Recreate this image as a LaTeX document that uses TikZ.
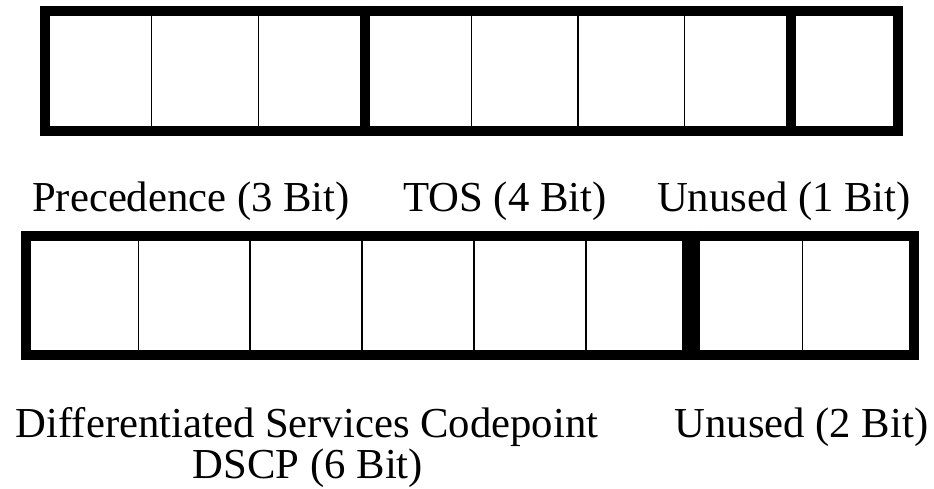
\documentclass[tikz,border=0pt]{standalone}
\usepackage{fontspec}
\setmainfont{Liberation Serif}
\begin{document}
\begin{tikzpicture}[x=1pt,y=-1pt,
  frame/.style={line width=10pt, line join=miter},
  thin/.style={line width=1.3pt},
  thick/.style={line width=10pt},
  lbl/.style={font=\fontsize{42.7}{48}\selectfont, inner sep=0pt, anchor=base}]
\useasboundingbox (0,0) rectangle (934,489);
% top register
\draw[frame] (45,11) rectangle (898,131);
\foreach \k in {1,2,4,5,6} \draw[thin] ({45+106.625*\k},16) -- ({45+106.625*\k},126);
\foreach \k in {3,7} \draw[thick] ({45+106.625*\k},6) -- ({45+106.625*\k},136);
% bottom register
\draw[frame] (26.4,235.5) rectangle (914,355.2);
\foreach \xx in {138.3,250,362,474,586,802.3} \draw[thin] (\xx,240.5) -- (\xx,350.2);
\draw[line width=18pt] (690.5,230.5) -- (690.5,360.2);
% labels
\node[lbl] (prec) at (191,211.5) {Precedence (3 Bit)};
\node[lbl] (tos) at (505,211.5) {TOS (4 Bit)};
\node[lbl] (unused1) at (784,211.5) {Unused (1 Bit)};
\node[lbl] (dsc) at (307,437) {Differentiated Services Codepoint};
\node[lbl] (dscp) at (308,478) {DSCP (6 Bit)};
\node[lbl] (unused2) at (801.5,437) {Unused (2 Bit)};
\end{tikzpicture}
\end{document}
